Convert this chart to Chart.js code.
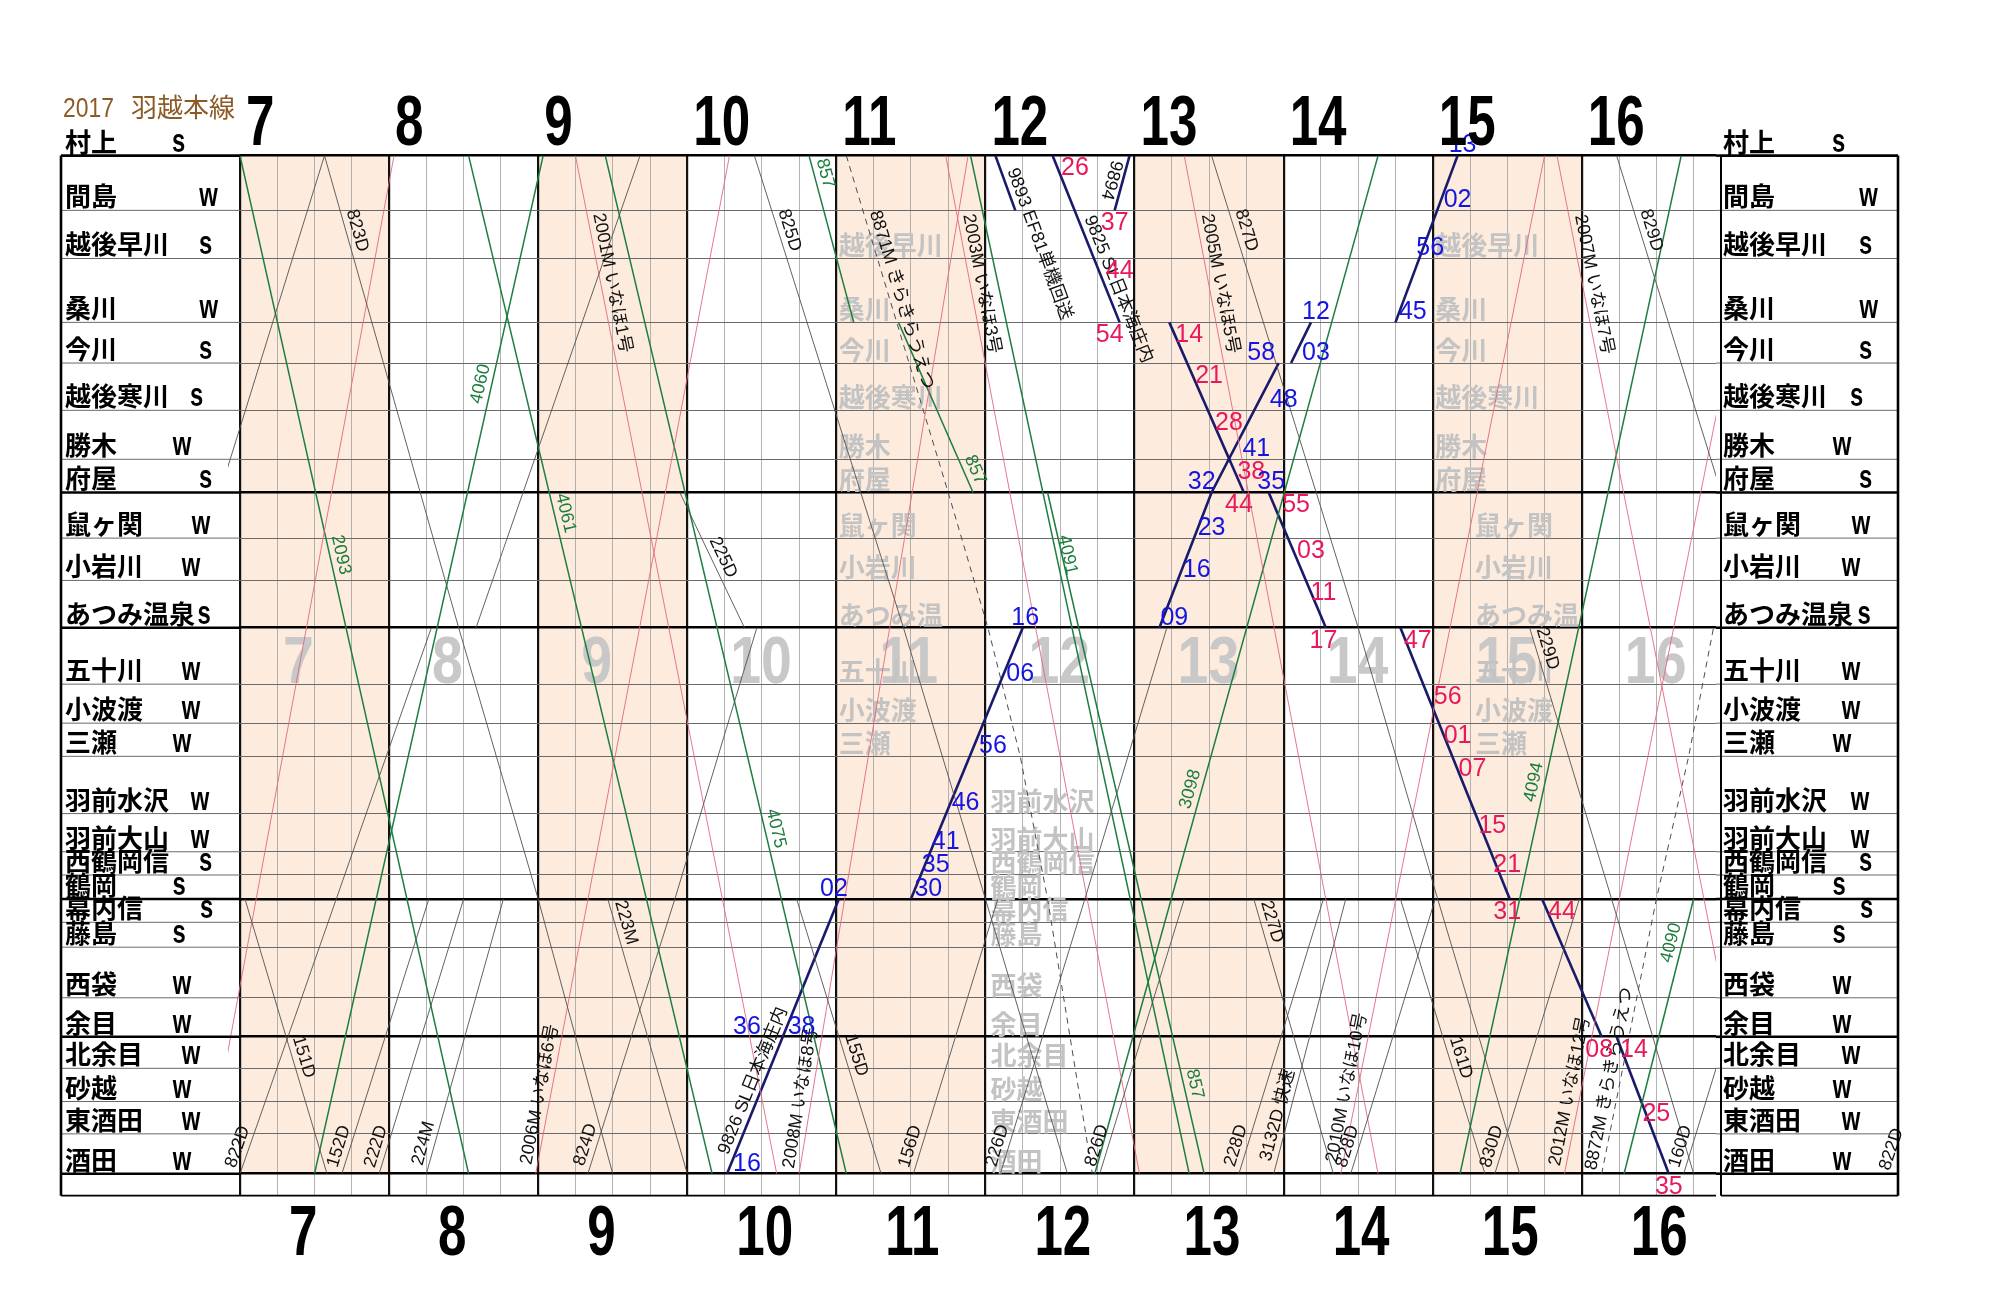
<!DOCTYPE html>
<html><head><meta charset="utf-8">
<script src="https://cdn.jsdelivr.net/npm/chart.js@4.4.1/dist/chart.umd.min.js"></script>
<style>html,body{margin:0;padding:0;background:#fff;}#wrap{width:2000px;height:1291px;position:relative;}</style>
</head><body><div id="wrap"><canvas id="c" width="2000" height="1291"></canvas></div>
<script>
// ---------------- DATA ----------------
const chartTitle = ['2017', '羽越本線'];
const stations = ['村上','間島','越後早川','桑川','今川','越後寒川','勝木','府屋','鼠ヶ関','小岩川','あつみ温泉','五十川','小波渡','三瀬','羽前水沢','羽前大山','西鶴岡信','鶴岡','幕内信','藤島','西袋','余目','北余目','砂越','東酒田','酒田'];
const stationKm = [0,6.6,12.4,20.1,25.0,30.7,36.6,40.6,46.1,51.2,56.9,63.7,68.4,72.4,79.3,83.9,86.7,89.6,92.4,95.4,101.5,106.2,110.0,114.0,117.9,122.7];
const stationMark = ['s','w','s','w','s','s','w','s','w','w','s','w','w','w','w','w','s','s','s','s','w','w','w','w','w','w'];
const majorStations = ['村上','府屋','あつみ温泉','鶴岡','余目','酒田'];
const hours = [7,8,9,10,11,12,13,14,15,16];
const shadedHours = [7,9,11,13,15];
const timeRange = ['7:00','16:54'];
// faint station names printed inside the grid: [name, column time, shown text]
const ghostNames = [
  ['越後早川','11:01'],['桑川','11:01'],['今川','11:01'],['越後寒川','11:01'],['勝木','11:01'],['府屋','11:01'],['鼠ヶ関','11:01'],['小岩川','11:01'],['あつみ温泉','11:01','あつみ温'],['五十川','11:01'],['小波渡','11:01'],['三瀬','11:01'],
  ['羽前水沢','12:02'],['羽前大山','12:02'],['西鶴岡信','12:02'],['鶴岡','12:02'],['幕内信','12:02'],['藤島','12:02'],['西袋','12:02'],['余目','12:02'],['北余目','12:02'],['砂越','12:02'],['東酒田','12:02'],['酒田','12:02'],
  ['越後早川','15:01'],['桑川','15:01'],['今川','15:01'],['越後寒川','15:01'],['勝木','15:01'],['府屋','15:01'],['鼠ヶ関','15:17'],['小岩川','15:17'],['あつみ温泉','15:17','あつみ温'],['五十川','15:17'],['小波渡','15:17'],['三瀬','15:17']
];

// trains: id -> list of running segments, each a list of [time, station]
const localTrains = {
  'L0':   [[['6:35','あつみ温泉'],['7:34','村上']]],
  '823D': [[['7:34','村上'],['8:28','あつみ温泉'],['9:00','鶴岡'],['9:30','酒田']]],
  '822D': [[['7:00','酒田'],['8:17','あつみ温泉']],[['8:35','あつみ温泉'],['9:41','村上']]],
  '151D': [[['7:02','鶴岡'],['7:35','酒田']]],
  '152D': [[['7:41','酒田'],['8:16','鶴岡']]],
  '222D': [[['7:56','酒田'],['8:30','鶴岡']]],
  '224M': [[['8:15','酒田'],['8:46','鶴岡']]],
  '223M': [[['9:28','鶴岡'],['10:00','酒田']]],
  '824D': [[['9:20','酒田'],['9:55','鶴岡'],['10:28','あつみ温泉']]],
  '825D': [[['10:27','村上'],['11:27','あつみ温泉'],['12:00','鶴岡'],['12:33','酒田']]],
  '225D': [[['9:57','府屋'],['10:23','あつみ温泉']]],
  '155D': [[['10:44','鶴岡'],['11:18','酒田']]],
  '156D': [[['11:31','酒田'],['12:05','鶴岡']]],
  '226D': [[['12:06','酒田'],['12:40','鶴岡'],['13:13','あつみ温泉']]],
  '826D': [[['12:46','酒田'],['13:20','鶴岡']]],
  '827D': [[['13:31','村上'],['14:30','あつみ温泉'],['15:02','鶴岡'],['15:35','酒田']]],
  '227D': [[['13:48','鶴岡'],['14:20','酒田']]],
  '228D': [[['13:42','酒田'],['14:16','鶴岡']]],
  '3132D':[[['13:56','酒田'],['14:25','鶴岡']]],
  '828D': [[['14:27','酒田'],['15:01','鶴岡']]],
  '161D': [[['14:47','鶴岡'],['15:21','酒田']]],
  '229D': [[['15:39','あつみ温泉'],['16:12','鶴岡'],['16:45','酒田']]],
  '830D': [[['15:25','酒田'],['15:59','鶴岡']]],
  '829D': [[['16:14','村上'],['17:13','あつみ温泉']]],
  '160D': [[['16:41','酒田'],['17:15','鶴岡']]]
};
const expressTrains = {
  'E0':    [[['6:46','酒田'],['8:02','村上']]],
  '2001M': [[['9:15','村上'],['10:36','酒田']]],
  '2006M': [[['8:59','酒田'],['10:17','村上']]],
  '2008M': [[['10:45','酒田'],['11:53','村上']]],
  '2003M': [[['11:44','村上'],['13:02','酒田']]],
  '2005M': [[['13:20','村上'],['14:38','酒田']]],
  '2010M': [[['14:23','酒田'],['15:45','村上']]],
  '2007M': [[['15:50','村上'],['17:11','酒田']]],
  '2012M': [[['15:53','酒田'],['17:15','村上']]]
};
const freightTrains = {
  '2093': [[['7:00','村上'],['8:32','酒田']]],
  '4060': [[['7:30','酒田'],['9:02','村上']]],
  '4061': [[['8:32','村上'],['10:10','酒田']]],
  '4075': [[['9:27','村上'],['11:04','酒田']]],
  '857':  [[['10:49','村上'],['11:07','桑川']],[['11:25','桑川'],['11:55','府屋']],[['12:25','府屋'],['13:28','酒田']]],
  '4091': [[['11:54','村上'],['13:22','酒田']]],
  '3098': [[['12:44','酒田'],['14:38','村上']]],
  '4094': [[['15:11','酒田'],['16:40','村上']]],
  '4090': [[['16:17','酒田'],['16:45','鶴岡']]]
};
const specialTrains = {
  '9826': [[['10:16','酒田'],['11:01','鶴岡']],[['11:30','鶴岡'],['12:15','あつみ温泉']]],
  '9893': [[['12:04','村上'],['12:12','間島']]],
  '9894': [[['12:52','間島'],['12:58','村上']]],
  '9825': [[['12:27','村上'],['12:54','桑川']],[['13:14','桑川'],['13:44','府屋']],[['13:54','府屋'],['14:17','あつみ温泉']],[['14:47','あつみ温泉'],['15:31','鶴岡']],[['15:44','鶴岡'],['16:08','余目']],[['16:14','余目'],['16:35','酒田']]],
  'SLup':  [[['13:10','あつみ温泉'],['13:31','府屋'],['13:58','今川']],[['14:03','今川'],['14:11','桑川']],[['14:45','桑川'],['15:10','村上']]]
};
const kirakiraTrains = {
  '8871M': [[['11:04','村上'],['11:45','府屋'],['12:01','あつみ温泉'],['12:14','三瀬'],['12:25','鶴岡'],['12:43','酒田']]],
  '8872M': [[['16:08','酒田'],['16:19','余目'],['16:30','鶴岡'],['16:43','三瀬'],['16:53','あつみ温泉']]]
};
// rotated train labels: [text, train id, distance of label centre]
const trainLabels = [
  ['823D','823D',9.4],['2001M いなほ1号','2001M',15.6],['825D','825D',9.4],['8871M きらきらうえつ','8871M',17.8],
  ['2003M いなほ3号','2003M',15.7],['9893 EF81単機回送','9893',11.1],['9894','9894',3.3],['9825 SL日本海庄内','9825',16.6],
  ['2005M いなほ5号','2005M',15.7],['827D','827D',9.4],['2007M いなほ7号','2007M',15.8],['829D','829D',9.4],
  ['225D','225D',49.0],['223M','223M',92.8],['227D','227D',92.7],['229D','229D',59.8],
  ['2093','2093',48.4],['4060','4060',27.8],['4061','4061',43.4],['4075','4075',81.4],['857','857',2.5],['857','857',38.4],
  ['4091','4091',48.4],['3098','3098',76.7],['4094','4094',75.8],['857','857',112.2],['4090','4090',95.2],
  ['822D','822D',119.9],['151D','151D',109.0],['152D','152D',119.8],['222D','222D',119.8],['224M','224M',119.4],
  ['2006M いなほ6号','2006M',113.4],['824D','824D',119.6],['9826 SL日本海庄内','9826',112.0],['2008M いなほ8号','2008M',113.8],
  ['155D','155D',108.8],['156D','156D',119.8],['226D','226D',119.7],['826D','826D',119.7],['228D','228D',119.7],
  ['3132D 快速','3132D',116.0],['2010M いなほ10号','2010M',112.6],['828D','828D',119.8],['161D','161D',109.1],
  ['830D','830D',119.8],['2012M いなほ12号','2012M',113.0],['8872M きらきらうえつ','8872M',111.5],['160D','160D',119.8]
];
const pageEdgeLabels = [['822D','18:05',119.8]];
// minute labels of the special trains: [text, centre time, station]
const minutesDown = [
  ['26','12:36','村上'],['37','12:52','間島'],['44','12:54','越後早川'],['54','12:50','桑川'],['14','13:22','桑川'],['21','13:30','今川'],
  ['28','13:38','越後寒川'],['38','13:47','勝木'],['44','13:42','府屋'],['55','14:05','府屋'],['03','14:11','鼠ヶ関'],['11','14:16','小岩川'],
  ['17','14:16','あつみ温泉'],['47','14:54','あつみ温泉'],['56','15:06','五十川'],['01','15:10','小波渡'],['07','15:16','三瀬'],['15','15:24','羽前水沢'],
  ['21','15:30','羽前大山'],['31','15:30','鶴岡'],['44','15:52','鶴岡'],['08','16:07','余目'],['14','16:21','余目'],['25','16:30','砂越'],['35','16:35','酒田']
];
const minutesUp = [
  ['16','10:24','酒田'],['36','10:24','余目'],['38','10:46','余目'],['02','10:59','鶴岡'],['30','11:37','鶴岡'],['35','11:40','西鶴岡信'],
  ['41','11:44','羽前大山'],['46','11:52','羽前水沢'],['56','12:03','三瀬'],['06','12:14','五十川'],['16','12:16','あつみ温泉'],
  ['09','13:16','あつみ温泉'],['16','13:25','小岩川'],['23','13:31','鼠ヶ関'],['32','13:27','府屋'],['35','13:55','府屋'],['41','13:49','勝木'],
  ['48','14:00','越後寒川'],['58','13:51','今川'],['03','14:13','今川'],['12','14:13','桑川'],['45','14:52','桑川'],['56','14:59','越後早川'],
  ['02','15:10','間島'],['13','15:12','村上']
];

// ---------------- STYLE ----------------
const C = {
  peach:'#fdecdd', hourLine:'#111', quarterLine:'#a0a0a0', stLine:'#6a6a6a', major:'#000',
  local:'#505050', express:'#e2687e', freight:'#1c7d3e', special:'#1a1a6a', kira:'#4a4a5a',
  red:'#e8195a', blue:'#1515e0', ghost:'#c3c3c3', watermark:'#c8c8c8', title:'#8c5a24'
};
const flippedLabels = new Set(['9894']);
const markX = [178.5,208.5,205.5,208.7,205.5,196.5,182,205.5,201,191,204,191,191,182,200,200,205.5,179,206.5,179,182,182,191,182,191,182];
const L = {left:240, right:1716, top:155.6, bottom:1173.7, row:22, boxL:61, rboxL:1721, rboxR:1898};
const SANS = '"Liberation Sans", Arial, sans-serif';
const CJK = '"Noto Sans CJK JP", sans-serif';

// ---------------- HELPERS ----------------
const tm = s => { const [h,m] = s.split(':').map(Number); return h*60+m; };
const km = n => stationKm[stations.indexOf(n)];
const allTrains = {};
const datasets = [];
function addGroup(group, style){
  for (const [id, segs] of Object.entries(group)) {
    allTrains[id] = segs.map(seg => seg.map(([t,s]) => ({x:tm(t), y:km(s)})));
    allTrains[id].color = style.labelColor;
    for (const pts of allTrains[id]) {
      datasets.push(Object.assign({label:id, data:pts, showLine:true, pointRadius:0, fill:false, tension:0,
        clip:{left:12, top:0, right:0, bottom:0}}, style.ds));
    }
  }
}
addGroup(localTrains, {ds:{borderColor:C.local, borderWidth:0.9}, labelColor:'#111'});
addGroup(expressTrains, {ds:{borderColor:C.express, borderWidth:0.9}, labelColor:'#111'});
addGroup(freightTrains, {ds:{borderColor:C.freight, borderWidth:1.5}, labelColor:C.freight});
addGroup(kirakiraTrains, {ds:{borderColor:C.kira, borderWidth:1, borderDash:[6,5]}, labelColor:'#111'});
addGroup(specialTrains, {ds:{borderColor:C.special, borderWidth:2.6}, labelColor:'#111'});

const isMajor = v => majorStations.some(n => Math.abs(km(n) - v) < 1e-6);
function squeezed(ctx, text, px, py, sx){
  ctx.save(); ctx.translate(px, py); ctx.scale(sx, 1); ctx.fillText(text, 0, 0); ctx.restore();
}

const drawPlugin = {
  id:'diagram',
  beforeDraw(chart){
    const {ctx, chartArea:a, scales:{x}} = chart;
    ctx.save();
    ctx.fillStyle = '#fff'; ctx.fillRect(0,0,chart.width,chart.height);
    ctx.fillStyle = C.peach;
    for (const h of shadedHours) {
      const x1 = x.getPixelForValue(h*60), x2 = x.getPixelForValue(h*60+60);
      ctx.fillRect(x1, a.top, x2-x1, a.bottom-a.top);
    }
    ctx.restore();
  },
  beforeDatasetsDraw(chart){
    const {ctx, scales:{x,y}} = chart;
    ctx.save();
    ctx.fillStyle = C.watermark;
    ctx.font = 'bold 66px ' + SANS;
    ctx.textBaseline = 'alphabetic'; ctx.textAlign = 'left';
    const wy = y.getPixelForValue(km('五十川')) - 1;
    for (const h of hours) squeezed(ctx, String(h), x.getPixelForValue(h*60)+43, wy, 0.84);
    ctx.fillStyle = C.ghost;
    ctx.font = 'bold 26px ' + CJK;
    for (const g of ghostNames) {
      ctx.fillText(g[2] || g[0], x.getPixelForValue(tm(g[1])), y.getPixelForValue(km(g[0])) - 3);
    }
    ctx.restore();
  },
  afterDatasetsDraw(chart){
    const {ctx, scales:{x,y}} = chart;
    ctx.save();
    ctx.font = '18px "Liberation Sans", "Noto Sans CJK JP", sans-serif';
    ctx.textAlign = 'center';
    for (const [text, id, p] of trainLabels) {
      const segs = allTrains[id]; if (!segs) continue;
      let best = null, bestD = Infinity;
      for (const seg of segs) for (let i=0;i<seg.length-1;i++) {
        const a = seg[i], b = seg[i+1];
        const lo = Math.min(a.y,b.y), hi = Math.max(a.y,b.y);
        const d = p < lo ? lo-p : (p > hi ? p-hi : 0);
        if (d < bestD) { bestD = d; best = [a,b]; }
      }
      const [a,b] = best;
      const f = (p - a.y)/(b.y - a.y);
      const t = a.x + f*(b.x - a.x);
      const px = x.getPixelForValue(t), py = y.getPixelForValue(p);
      const ang = Math.atan2(y.getPixelForValue(b.y)-y.getPixelForValue(a.y), x.getPixelForValue(b.x)-x.getPixelForValue(a.x));
      ctx.save(); ctx.translate(px,py);
      ctx.fillStyle = segs.color;
      if (flippedLabels.has(id)) { ctx.rotate(ang + Math.PI); ctx.textBaseline = 'top'; ctx.fillText(text, 0, 2); }
      else { ctx.rotate(ang); ctx.textBaseline = 'bottom'; ctx.fillText(text, 0, -2); }
      ctx.restore();
    }
    ctx.textBaseline = 'bottom';
    for (const [text, t, p] of pageEdgeLabels) {
      ctx.save(); ctx.translate(x.getPixelForValue(tm(t)), y.getPixelForValue(p)); ctx.rotate(-1.25);
      ctx.fillStyle = '#111'; ctx.fillText(text, 0, 8); ctx.restore();
    }
    ctx.font = '25px ' + SANS;
    ctx.textBaseline = 'middle';
    ctx.fillStyle = C.red;
    for (const [txt,t,s] of minutesDown) ctx.fillText(txt, x.getPixelForValue(tm(t)), y.getPixelForValue(km(s)) + 13);
    ctx.fillStyle = C.blue;
    for (const [txt,t,s] of minutesUp) ctx.fillText(txt, x.getPixelForValue(tm(t)), y.getPixelForValue(km(s)) - 10);
    ctx.restore();
  },
  afterDraw(chart){
    const {ctx, chartArea:a, scales:{x,y}} = chart;
    ctx.save();
    const rowB = a.bottom + L.row;
    const boxes = [[L.boxL, a.left, 65], [L.rboxL, L.rboxR, L.rboxL+2]];
    stations.forEach((n,i) => {
      const yy = y.getPixelForValue(stationKm[i]);
      const maj = majorStations.includes(n);
      ctx.strokeStyle = maj ? C.major : C.stLine; ctx.lineWidth = maj ? 2.6 : 1;
      for (const [b1,b2] of boxes) { ctx.beginPath(); ctx.moveTo(b1, yy); ctx.lineTo(b2, yy); ctx.stroke(); }
      ctx.beginPath(); ctx.moveTo(a.right, yy); ctx.lineTo(L.rboxL, yy); ctx.stroke();
    });
    ctx.strokeStyle = '#000'; ctx.lineWidth = 1.8;
    ctx.beginPath(); ctx.moveTo(L.boxL, rowB); ctx.lineTo(a.right, rowB); ctx.moveTo(L.rboxL, rowB); ctx.lineTo(L.rboxR, rowB); ctx.stroke();
    ctx.lineWidth = 2.6;
    ctx.beginPath();
    ctx.moveTo(L.boxL, a.top); ctx.lineTo(L.boxL, rowB);
    ctx.moveTo(L.rboxR, a.top); ctx.lineTo(L.rboxR, rowB);
    ctx.stroke();
    ctx.lineWidth = 2;
    ctx.beginPath(); ctx.moveTo(L.rboxL, a.top); ctx.lineTo(L.rboxL, rowB); ctx.stroke();
    ctx.fillStyle = '#000'; ctx.textBaseline = 'alphabetic';
    stations.forEach((n,i) => {
      const yy = y.getPixelForValue(stationKm[i]) - 4;
      for (const [b1,,tx] of boxes) {
        ctx.textAlign = 'left';
        ctx.font = 'bold 26px ' + CJK;
        ctx.fillText(n, tx, yy);
        ctx.textAlign = 'center';
        ctx.font = 'bold 34px ' + SANS;
        squeezed(ctx, stationMark[i], markX[i] + (b1 - L.boxL), yy, 0.7);
      }
    });
    ctx.font = 'bold 70px ' + SANS;
    ctx.textAlign = 'left';
    for (const h of hours) {
      const hx = x.getPixelForValue(h*60);
      squeezed(ctx, String(h), hx + 6, a.top - 11, 0.73);
      squeezed(ctx, String(h), hx + 49, a.bottom + 81, 0.73);
    }
    ctx.fillStyle = C.title;
    ctx.font = '27px ' + SANS;
    squeezed(ctx, chartTitle[0], 63, 117, 0.85);
    ctx.font = '26px ' + CJK;
    ctx.fillText(chartTitle[1], 131, 117);
    ctx.restore();
  }
};

new Chart(document.getElementById('c'), {
  type:'scatter',
  data:{datasets},
  options:{
    responsive:false, animation:false, devicePixelRatio:1,
    layout:{padding:{left:L.left, right:2000-L.right, top:L.top, bottom:1291-L.bottom-L.row}},
    plugins:{legend:{display:false}, tooltip:{enabled:false}},
    scales:{
      x:{type:'linear', position:'bottom', min:tm(timeRange[0]), max:tm(timeRange[1]),
        afterBuildTicks:s => { s.ticks = []; for (let v = tm(timeRange[0]); v < tm(timeRange[1]); v += 15) s.ticks.push({value:v}); },
        ticks:{display:false},
        grid:{drawTicks:true, tickLength:L.row,
          color:c => (c.tick && c.tick.value % 60 === 0) ? C.hourLine : C.quarterLine,
          lineWidth:c => (c.tick && c.tick.value % 60 === 0) ? 2.2 : 0.8},
        border:{display:false},
        afterFit:s => { s.height = L.row; }
      },
      y:{type:'linear', position:'left', reverse:true, min:0, max:stationKm[stationKm.length-1],
        afterBuildTicks:s => { s.ticks = stationKm.map(v => ({value:v})); },
        ticks:{display:false},
        grid:{drawTicks:false,
          color:c => (c.tick && isMajor(c.tick.value)) ? C.major : C.stLine,
          lineWidth:c => (c.tick && isMajor(c.tick.value)) ? 2.6 : 1},
        border:{display:false},
        afterFit:s => { s.width = 0; }
      }
    }
  },
  plugins:[drawPlugin]
});
</script>
</body></html>
